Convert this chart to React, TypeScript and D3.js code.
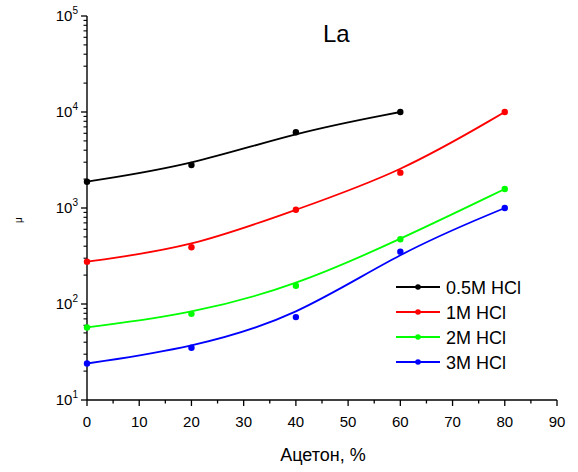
import React, { useEffect, useRef } from "react";
import * as d3 from "d3";

// Acetone content, %
const acetone = [0, 20, 40, 60, 80];

// Distribution coefficients of La for each HCl concentration
const hcl05 = [1880, 2800, 6150, 10000];
const hcl1 = [276, 390, 960, 2335, 10000];
const hcl2 = [57, 79, 155, 472, 1578];
const hcl3 = [24, 35, 73, 351, 1000];

const seriesNames = ["0.5M HCl", "1M HCl", "2M HCl", "3M HCl"];
const seriesColors = ["#000000", "#ff0000", "#00ff00", "#0000ff"];
const seriesValues = [hcl05, hcl1, hcl2, hcl3];

const xTicks = [0, 10, 20, 30, 40, 50, 60, 70, 80, 90];
const yExponents = [1, 2, 3, 4, 5];

const W = 578;
const H = 472;
const FONT = "Arial, 'Liberation Sans', Helvetica, sans-serif";

export default function App() {
  const ref = useRef<SVGSVGElement>(null);

  useEffect(() => {
    const svg = d3.select(ref.current);
    svg.selectAll("*").remove();

    const x = d3.scaleLinear().domain([0, 90]).range([87, 557]);
    const y = d3.scaleLog().domain([10, 1e5]).range([400, 16]);

    const g = svg.append("g");

    // axes lines
    g.append("line")
      .attr("x1", x(0)).attr("x2", x(0))
      .attr("y1", y(1e5)).attr("y2", y(10))
      .attr("stroke", "#000").attr("stroke-width", 1.4);
    g.append("line")
      .attr("x1", x(0)).attr("x2", x(90))
      .attr("y1", y(10)).attr("y2", y(10))
      .attr("stroke", "#000").attr("stroke-width", 1.4);

    // x ticks (major every 10, minor every 5)
    for (let v = 0; v <= 90; v += 5) {
      const major = v % 10 === 0;
      g.append("line")
        .attr("x1", x(v)).attr("x2", x(v))
        .attr("y1", y(10)).attr("y2", y(10) + (major ? 6 : 3.5))
        .attr("stroke", "#000").attr("stroke-width", 1.3);
    }
    g.selectAll(".xl")
      .data(xTicks)
      .join("text")
      .attr("x", (d) => x(d))
      .attr("y", 427)
      .attr("text-anchor", "middle")
      .attr("font-family", FONT)
      .attr("font-size", 15)
      .text((d) => String(d));

    // y ticks (log decades + minor 2..9)
    yExponents.forEach((e) => {
      const v = Math.pow(10, e);
      g.append("line")
        .attr("x1", x(0) - 6).attr("x2", x(0))
        .attr("y1", y(v)).attr("y2", y(v))
        .attr("stroke", "#000").attr("stroke-width", 1.3);
      if (e < 5) {
        for (let m = 2; m <= 9; m++) {
          g.append("line")
            .attr("x1", x(0) - 3.5).attr("x2", x(0))
            .attr("y1", y(m * v)).attr("y2", y(m * v))
            .attr("stroke", "#000").attr("stroke-width", 1.1);
        }
      }
      const t = g.append("text")
        .attr("x", 78)
        .attr("y", y(v) + 5)
        .attr("text-anchor", "end")
        .attr("font-family", FONT)
        .attr("font-size", 15);
      t.append("tspan").text("10");
      t.append("tspan").attr("dy", -7).attr("font-size", 10).text(String(e));
    });

    // smoothed curves through the points (B-spline in log space)
    const line = d3.line<number>()
      .x((_, i) => x(acetone[i]))
      .y((d) => y(d))
      .curve(d3.curveBasis);

    seriesValues.forEach((vals, si) => {
      g.append("path")
        .attr("d", line(vals) || "")
        .attr("fill", "none")
        .attr("stroke", seriesColors[si])
        .attr("stroke-width", 1.8);
      g.selectAll(`.pt${si}`)
        .data(vals)
        .join("circle")
        .attr("cx", (_, i) => x(acetone[i]))
        .attr("cy", (d) => y(d))
        .attr("r", 3.2)
        .attr("fill", seriesColors[si]);
    });

    // legend
    seriesNames.forEach((name, i) => {
      const ly = 287 + i * 25;
      g.append("line")
        .attr("x1", 396).attr("x2", 440)
        .attr("y1", ly).attr("y2", ly)
        .attr("stroke", seriesColors[i]).attr("stroke-width", 1.8);
      g.append("circle")
        .attr("cx", 418).attr("cy", ly).attr("r", 2.8)
        .attr("fill", seriesColors[i]);
      g.append("text")
        .attr("x", 446).attr("y", ly + 6.5)
        .attr("font-family", FONT)
        .attr("font-size", 18)
        .text(name);
    });

    // title
    g.append("text")
      .attr("x", 323).attr("y", 42)
      .attr("font-family", FONT)
      .attr("font-size", 24)
      .text("La");

    // axis titles
    g.append("text")
      .attr("x", 323).attr("y", 461)
      .attr("text-anchor", "middle")
      .attr("font-family", FONT)
      .attr("font-size", 18)
      .text("Ацетон, %");
    g.append("text")
      .attr("transform", "translate(22,220) rotate(-90)")
      .attr("text-anchor", "middle")
      .attr("font-family", FONT)
      .attr("font-size", 10)
      .text("μ");
  }, []);

  return (
    <svg
      ref={ref}
      width={W}
      height={H}
      style={{ position: "absolute", left: 0, top: 0, background: "#fff" }}
    />
  );
}
